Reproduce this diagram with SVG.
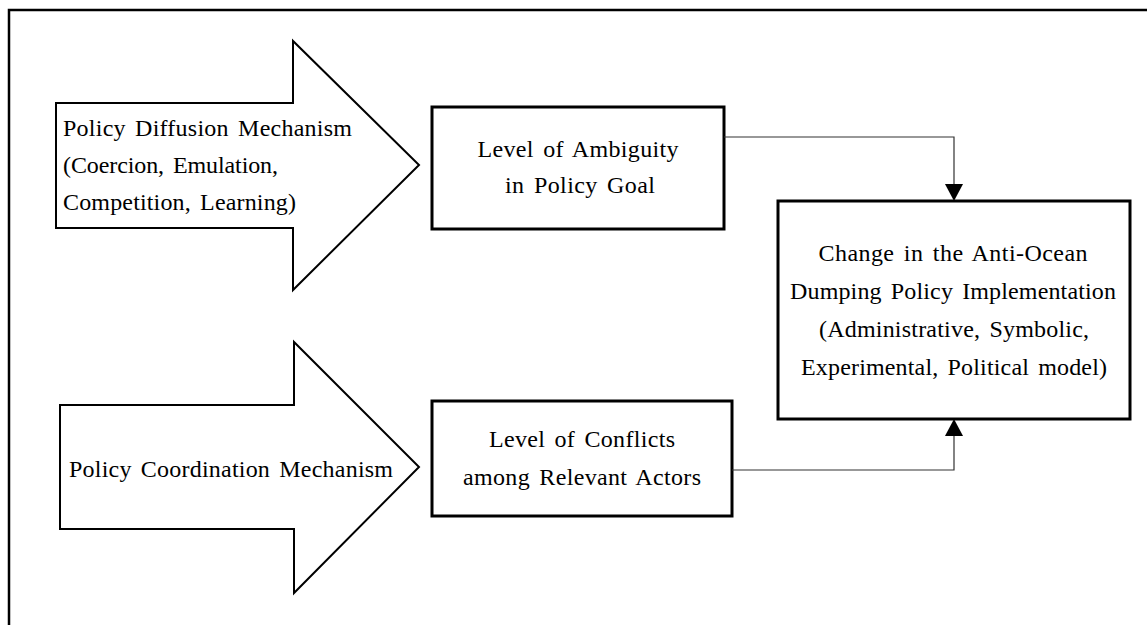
<svg xmlns="http://www.w3.org/2000/svg" width="1147" height="625" viewBox="0 0 1147 625">
  <style>
    .frame { fill: none; stroke: #000; stroke-width: 2.5; }
    .bigarrow { fill: #fff; stroke: #000; stroke-width: 2; stroke-linejoin: miter; }
    .box { fill: #fff; stroke: #000; stroke-width: 3; }
    .link { fill: none; stroke: #333; stroke-width: 1.2; }
    .head { fill: #000; }
    text { font-family: "Liberation Serif", "DejaVu Serif", "Times New Roman", serif; font-size: 24px; fill: #000; word-spacing: 3px; }
    .mid { text-anchor: middle; }
  </style>

  <!-- open frame: top and left edges only -->
  <path class="frame" d="M9,625 V10 H1147"/>

  <g font-family="Liberation Serif, DejaVu Serif, serif">
    <!-- block arrow: diffusion -->
    <g id="diffusion">
      <polygon class="bigarrow" points="56,103 293,103 293,41 419,165 293,290 293,228 56,228"/>
      <text x="63" y="136" textLength="289" lengthAdjust="spacing">Policy Diffusion Mechanism</text>
      <text x="63" y="173" textLength="215" lengthAdjust="spacing">(Coercion, Emulation,</text>
      <text x="63" y="210" textLength="233" lengthAdjust="spacing">Competition, Learning)</text>
    </g>

    <!-- block arrow: coordination -->
    <g id="coordination">
      <polygon class="bigarrow" points="60,405 294,405 294,342 419,467 294,593 294,529 60,529"/>
      <text x="69" y="477" textLength="324" lengthAdjust="spacing">Policy Coordination Mechanism</text>
    </g>

    <!-- ambiguity box -->
    <g id="ambiguity">
      <rect class="box" x="432" y="107" width="292" height="122"/>
      <text class="mid" x="578" y="157" textLength="201" lengthAdjust="spacing">Level of Ambiguity</text>
      <text class="mid" x="580" y="193" textLength="150" lengthAdjust="spacing">in Policy Goal</text>
    </g>

    <!-- conflicts box -->
    <g id="conflicts">
      <rect class="box" x="432" y="401" width="300" height="115"/>
      <text class="mid" x="582" y="447" textLength="186" lengthAdjust="spacing">Level of Conflicts</text>
      <text class="mid" x="582" y="485" textLength="238" lengthAdjust="spacing">among Relevant Actors</text>
    </g>

    <!-- outcome box -->
    <g id="implementation">
      <rect class="box" x="778" y="201" width="352" height="218"/>
      <text class="mid" x="953" y="261" textLength="269" lengthAdjust="spacing">Change in the Anti-Ocean</text>
      <text class="mid" x="953" y="299" textLength="326" lengthAdjust="spacing">Dumping Policy Implementation</text>
      <text class="mid" x="954" y="337" textLength="270" lengthAdjust="spacing">(Administrative, Symbolic,</text>
      <text class="mid" x="954" y="375" textLength="306" lengthAdjust="spacing">Experimental, Political model)</text>
    </g>
  </g>

  <!-- connectors -->
  <g id="connectors">
    <path class="link" d="M724,137 H954 V185"/>
    <polygon class="head" points="945,184 963,184 954,201"/>
    <path class="link" d="M732,470 H954 V435"/>
    <polygon class="head" points="945,436 963,436 954,419"/>
  </g>
</svg>
